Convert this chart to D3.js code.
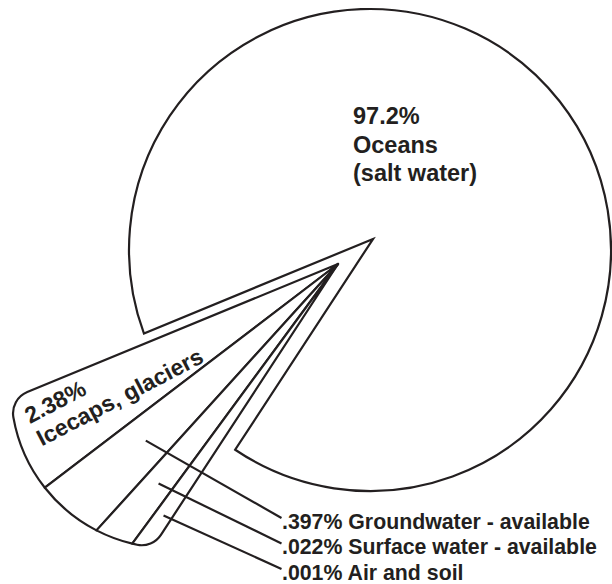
<!DOCTYPE html>
<html>
<head>
<meta charset="utf-8">
<script src="https://cdn.jsdelivr.net/npm/d3@7"></script>
<style>
  html, body { margin: 0; padding: 0; background: #fff; }
  svg { display: block; }
</style>
</head>
<body>
<script>
// Where the Earth's water is, in percent of the total
const categories = ["Oceans", "Icecaps, glaciers", "Groundwater - available", "Surface water - available", "Air and soil"];
const percents = [97.2, 2.38, 0.397, 0.022, 0.001];
const percentLabels = ["97.2%", "2.38%", ".397%", ".022%", ".001%"];
const oceanLines = ["97.2%", "Oceans", "(salt water)"];
const icecapLines = ["2.38%", "Icecaps, glaciers"];

const W = 612, H = 584;
const ink = "#231f20";
const font = "'Liberation Sans', Arial, Helvetica, sans-serif";
const deg = Math.PI / 180;

const svg = d3.select("body").append("svg")
  .attr("width", W).attr("height", H);

// ---- main circle: ocean versus everything else (fresh part magnified) ----
const detailZoom = 3.67;
const freshTotal = d3.sum(percents.slice(1));
const mainPie = d3.pie().sort(null).value(d => d)
  .startAngle(247.6 * deg).endAngle(247.6 * deg + 2 * Math.PI);
const [oceanArc, freshArc] = mainPie([percents[0], freshTotal * detailZoom]);

// ---- detail wedge: fifth-root shares so the tiny ones stay visible ----
const weight = d3.scalePow().exponent(0.2).domain([0, 1]).range([0, 1]);
const subPie = d3.pie().sort(null).value(d => weight(d))
  .startAngle(freshArc.endAngle).endAngle(freshArc.startAngle);
const subArcs = subPie(percents.slice(1));

// geometry
const oceanCentre = [370, 250], oceanR = 241, oceanApex = [373, 239];
const apex = [338, 264], rim = [169, 390], rimR = 158, fillet = 23;

const dir = a => [Math.sin(a), -Math.cos(a)];
const angOf = (c, p) => Math.atan2(p[1] - c[1], p[0] - c[0]);

// far intersection of a ray (pie angle a) from origin with a circle
function rayHit(origin, a, centre, r) {
  const [dx, dy] = dir(a);
  const cx = centre[0] - origin[0], cy = centre[1] - origin[1];
  const b = dx * cx + dy * cy;
  const c = cx * cx + cy * cy - r * r;
  const t = b + Math.sqrt(b * b - c);
  return [origin[0] + t * dx, origin[1] + t * dy];
}

// rounded corner between an edge ray and the rim of the detail wedge
function filletAt(a, sgn) {
  const [dx, dy] = dir(a);
  const nx = sgn * Math.cos(a), ny = sgn * Math.sin(a);
  const o = [apex[0] + nx * fillet, apex[1] + ny * fillet];
  const cx = rim[0] - o[0], cy = rim[1] - o[1];
  const b = dx * cx + dy * cy;
  const c = cx * cx + cy * cy - (rimR - fillet) * (rimR - fillet);
  const t = b + Math.sqrt(b * b - c);
  const P = [o[0] + t * dx, o[1] + t * dy];
  const onLine = [apex[0] + t * dx, apex[1] + t * dy];
  const k = rimR / (rimR - fillet);
  const onRim = [rim[0] + (P[0] - rim[0]) * k, rim[1] + (P[1] - rim[1]) * k];
  return { P, onLine, onRim };
}

// ocean slice
const op = d3.path();
const o0 = rayHit(oceanApex, oceanArc.startAngle, oceanCentre, oceanR);
const o1 = rayHit(oceanApex, oceanArc.endAngle, oceanCentre, oceanR);
op.moveTo(oceanApex[0], oceanApex[1]);
op.lineTo(o0[0], o0[1]);
op.arc(oceanCentre[0], oceanCentre[1], oceanR, angOf(oceanCentre, o0), angOf(oceanCentre, o1), false);
op.closePath();

svg.append("path")
  .attr("d", op.toString())
  .attr("fill", "#fff").attr("stroke", ink)
  .attr("stroke-width", 2.2).attr("stroke-linejoin", "miter");

// detail slices
const topEdge = freshArc.endAngle, bottomEdge = freshArc.startAngle;
function slicePath(d) {
  const p = d3.path();
  p.moveTo(apex[0], apex[1]);
  let startRim;
  if (Math.abs(d.startAngle - topEdge) < 1e-9) {
    const f = filletAt(d.startAngle, -1);
    p.lineTo(f.onLine[0], f.onLine[1]);
    p.arc(f.P[0], f.P[1], fillet, angOf(f.P, f.onLine), angOf(f.P, f.onRim), true);
    startRim = f.onRim;
  } else {
    startRim = rayHit(apex, d.startAngle, rim, rimR);
    p.lineTo(startRim[0], startRim[1]);
  }
  let endF = null, endRim;
  if (Math.abs(d.endAngle - bottomEdge) < 1e-9) {
    endF = filletAt(d.endAngle, 1);
    endRim = endF.onRim;
  } else {
    endRim = rayHit(apex, d.endAngle, rim, rimR);
  }
  p.arc(rim[0], rim[1], rimR, angOf(rim, startRim), angOf(rim, endRim), true);
  if (endF) p.arc(endF.P[0], endF.P[1], fillet, angOf(endF.P, endF.onRim), angOf(endF.P, endF.onLine), true);
  p.closePath();
  return p.toString();
}

svg.append("g").selectAll("path")
  .data(subArcs)
  .join("path")
  .attr("d", slicePath)
  .attr("fill", "#fff").attr("stroke", ink)
  .attr("stroke-width", 2.2).attr("stroke-linejoin", "round");

// ocean label
svg.append("text")
  .attr("font-family", font).attr("font-weight", "bold")
  .attr("font-size", 23.5).attr("fill", ink)
  .selectAll("tspan")
  .data(oceanLines)
  .join("tspan")
  .attr("x", 353)
  .attr("y", (d, i) => 124 + i * 28.5)
  .text(d => d);

// icecaps label, tilted along its slice
svg.append("text")
  .attr("transform", "translate(30,424) rotate(-27.5)")
  .attr("font-family", font).attr("font-weight", "bold")
  .attr("font-size", 23).attr("fill", ink)
  .selectAll("tspan")
  .data(icecapLines)
  .join("tspan")
  .attr("x", 0)
  .attr("y", (d, i) => i * 25.5)
  .text(d => d);

// call-outs for the three small slices
const small = subArcs.slice(1);
const baseline = i => 528.5 + i * 25.5;
const textX = 282;

svg.append("g").selectAll("line")
  .data(small)
  .join("line")
  .attr("x1", (d, i) => apex[0] + (261 + 22.5 * i) * dir((d.startAngle + d.endAngle) / 2)[0])
  .attr("y1", (d, i) => apex[1] + (261 + 22.5 * i) * dir((d.startAngle + d.endAngle) / 2)[1])
  .attr("x2", textX - 0.5)
  .attr("y2", (d, i) => baseline(i) - 10.5)
  .attr("stroke", ink).attr("stroke-width", 2.2);

svg.append("g").selectAll("text")
  .data(small)
  .join("text")
  .attr("x", textX)
  .attr("y", (d, i) => baseline(i))
  .attr("font-family", font).attr("font-weight", "bold")
  .attr("font-size", 21.3).attr("fill", ink)
  .text(d => percentLabels[d.index + 1] + " " + categories[d.index + 1]);
</script>
</body>
</html>
